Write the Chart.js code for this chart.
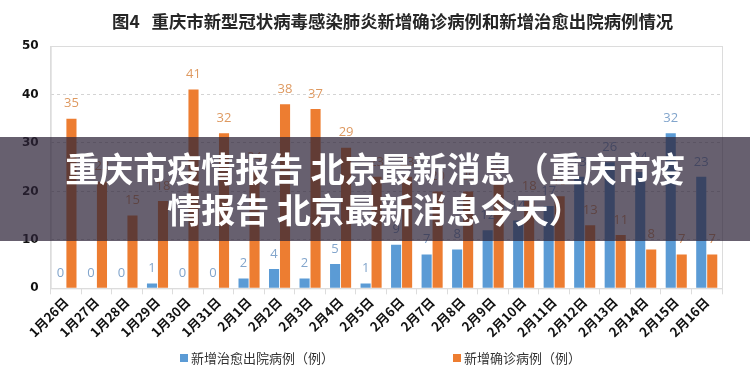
<!DOCTYPE html>
<html>
<head>
<meta charset="utf-8">
<script src="https://cdn.jsdelivr.net/npm/chart.js@4.4.1/dist/chart.umd.min.js"></script>
<style>
  body { margin: 0; background: #fff; }
  #wrap { position: relative; width: 750px; height: 379px; overflow: hidden; font-family: "Noto Sans CJK SC", sans-serif; }
  #title { position: absolute; top: 8px; left: 112px; text-align: left; font-weight: bold; font-size: 17.4px; color: #262626; white-space: pre; }
  #band { position: absolute; left: 0; top: 137px; width: 750px; height: 104px; background: rgba(45, 35, 55, 0.72);
          color: #fff; font-weight: bold; font-size: 34px; line-height: 41px; text-align: center; padding-top: 10px; box-sizing: border-box; }
  #legend { position: absolute; top: 348px; left: 0; width: 750px; font-size: 13px; color: #333; }
  #legend span { position: absolute; white-space: nowrap; }
  #legend i { display: inline-block; width: 8px; height: 8px; margin-right: 3px; vertical-align: 1px; }
</style>
</head>
<body>
<div id="wrap">
  <canvas id="chart" width="750" height="379"></canvas>
  <div id="title">图4   重庆市新型冠状病毒感染肺炎新增确诊病例和新增治愈出院病例情况</div>
  <div id="legend">
    <span style="left:180px"><i style="background:#5B9BD5"></i>新增治愈出院病例（例）</span>
    <span style="left:453px"><i style="background:#ED7D31"></i>新增确诊病例（例）</span>
  </div>
  <div id="band">重庆市疫情报告 北京最新消息（重庆市疫<br>情报告 北京最新消息今天）</div>
</div>
<script>
// 日期
const fechas = ['1月26日', '1月27日', '1月28日', '1月29日', '1月30日', '1月31日', '2月1日', '2月2日',
  '2月3日', '2月4日', '2月5日', '2月6日', '2月7日', '2月8日', '2月9日', '2月10日', '2月11日',
  '2月12日', '2月13日', '2月14日', '2月15日', '2月16日'];

// 新增治愈出院病例
const curados = [0, 0, 0, 1, 0, 0, 2, 4, 2, 5, 1, 9, 7, 8, 12, 14, 17, 23, 26, 24, 32, 23];

// 新增确诊病例
const confirmados = [35, 22, 15, 18, 41, 32, 24, 38, 37, 29, 23, 23, 20, 20, 22, 18, 19, 13, 11, 8, 7, 7];

const yTicks = [0, 10, 20, 30, 40, 50];

// Etiquetas encima de cada barra
const etiquetas =
{
    id: 'etiquetas',
    afterDatasetsDraw(chart)
    {
        const ctx = chart.ctx;
        ctx.save();
        ctx.font = '13px "Open Sans", sans-serif';
        ctx.textAlign = 'center';
        ctx.textBaseline = 'middle';
        chart.data.datasets.forEach((ds, i) =>
        {
            ctx.fillStyle = ds.labelColor;
            chart.getDatasetMeta(i).data.forEach((bar, j) =>
            {
                ctx.fillText(ds.data[j], bar.x, bar.y - 15);
            });
        });
        ctx.restore();
    }
};

// Marco del area del grafico
const marco =
{
    id: 'marco',
    beforeDatasetsDraw(chart)
    {
        const { ctx, chartArea: a } = chart;
        ctx.save();
        ctx.strokeStyle = '#dcdcdc';
        ctx.lineWidth = 1;
        ctx.strokeRect(a.left + 0.5, a.top + 0.5, a.right - a.left, a.bottom - a.top);
        ctx.restore();
    }
};

new Chart(document.getElementById('chart'),
{
    type: 'bar',
    data:
    {
        labels: fechas,
        datasets:
        [
            {
                label: '新增治愈出院病例（例）',
                data: curados,
                backgroundColor: '#5B9BD5',
                labelColor: '#82A5CC',
                categoryPercentage: 0.72,
                barPercentage: 0.92
            },
            {
                label: '新增确诊病例（例）',
                data: confirmados,
                backgroundColor: '#ED7D31',
                labelColor: '#DE9960',
                categoryPercentage: 0.72,
                barPercentage: 0.92
            }
        ]
    },
    options:
    {
        responsive: false,
        animation: false,
        layout: { padding: { top: 46, right: 28, left: 10, bottom: 39 } },
        plugins:
        {
            legend: { display: false },
            tooltip: { enabled: false }
        },
        scales:
        {
            x:
            {
                offset: true,
                grid: { drawOnChartArea: false, tickLength: 6, color: '#dcdcdc', offset: true },
                border: { color: '#dcdcdc' },
                ticks:
                {
                    maxRotation: 45,
                    minRotation: 45,
                    autoSkip: false,
                    padding: 0,
                    color: '#111',
                    font: { family: '"Noto Sans CJK SC", sans-serif', size: 13, weight: 'bold' }
                }
            },
            y:
            {
                min: 0,
                max: 50,
                afterBuildTicks: (axis) => { axis.ticks = yTicks.map(v => ({ value: v })); },
                grid: { color: '#d4d4d4', drawTicks: false },
                border: { color: '#dcdcdc', dash: [3, 3] },
                ticks:
                {
                    padding: 12,
                    color: '#111',
                    font: { family: '"DejaVu Sans", sans-serif', size: 12, weight: 'bold' }
                }
            }
        }
    },
    plugins: [marco, etiquetas]
});
</script>
</body>
</html>
